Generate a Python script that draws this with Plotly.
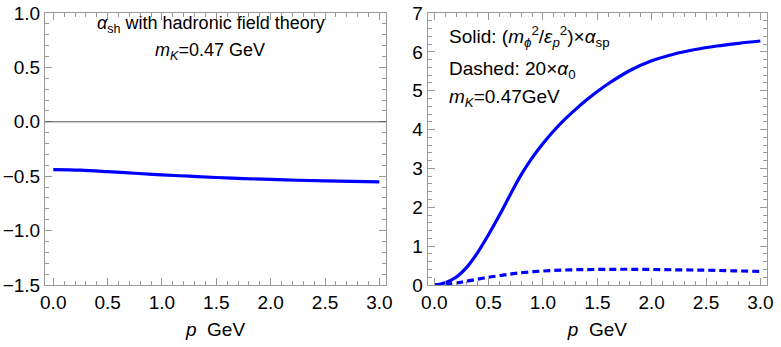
import plotly.graph_objects as go

BLUE = "#0000FF"
FRAME = "#9a9a9a"
FONT = "Liberation Sans, Arial, sans-serif"

# left panel: alpha_sh vs p
p_left = [0.0, 0.25, 0.5, 0.75, 1.0, 1.25, 1.5, 1.75, 2.0, 2.25, 2.5, 2.75, 3.0]
alpha_sh = [-0.44, -0.445, -0.458, -0.473, -0.488, -0.50, -0.512, -0.522,
            -0.53, -0.537, -0.543, -0.548, -0.553]

# right panel: solid (m_phi^2/eps_p^2)*alpha_sp
p_solid = [0.0, 0.1, 0.2, 0.3, 0.4, 0.5, 0.6, 0.7, 0.8, 0.9, 1.0, 1.1, 1.2,
           1.3, 1.4, 1.5, 1.6, 1.8, 2.0, 2.2, 2.4, 2.6, 2.8, 3.0]
alpha_sp_scaled = [0.0, 0.06, 0.2, 0.46, 0.84, 1.3, 1.8, 2.33, 2.84, 3.27,
                   3.64, 3.97, 4.26, 4.52, 4.76, 4.98, 5.18, 5.52, 5.77, 5.94,
                   6.06, 6.15, 6.22, 6.28]

# right panel: dashed 20*alpha_0
p_dash = [0.0, 0.1, 0.2, 0.3, 0.4, 0.5, 0.6, 0.75, 1.0, 1.25, 1.5, 1.75,
          2.0, 2.25, 2.5, 2.75, 3.0]
alpha0_x20 = [0.0, 0.02, 0.05, 0.1, 0.15, 0.2, 0.24, 0.3, 0.36, 0.39, 0.40,
              0.405, 0.40, 0.39, 0.38, 0.365, 0.35]

x_ticks = [0.0, 0.5, 1.0, 1.5, 2.0, 2.5, 3.0]
x_ticktext = ["0.0", "0.5", "1.0", "1.5", "2.0", "2.5", "3.0"]
yl_ticks = [-1.5, -1.0, -0.5, 0.0, 0.5, 1.0]
yl_ticktext = ["\u22121.5", "\u22121.0", "\u22120.5", "0.0", "0.5", "1.0"]
yr_ticks = [0, 1, 2, 3, 4, 5, 6, 7]

fig = go.Figure()

fig.add_trace(go.Scatter(x=p_left, y=alpha_sh, mode="lines", line_shape="spline",
                         line=dict(color=BLUE, width=3.2), showlegend=False,
                         xaxis="x", yaxis="y"))
fig.add_trace(go.Scatter(x=p_solid, y=alpha_sp_scaled, mode="lines", line_shape="spline",
                         line=dict(color=BLUE, width=3.2), showlegend=False,
                         xaxis="x2", yaxis="y2"))
fig.add_trace(go.Scatter(x=p_dash, y=alpha0_x20, mode="lines", line_shape="spline",
                         line=dict(color=BLUE, width=3.2, dash="7px,4px"), showlegend=False,
                         xaxis="x2", yaxis="y2"))

axis_common = dict(
    showline=True, linecolor=FRAME, linewidth=1, mirror="ticks",
    ticks="inside", ticklen=7, tickcolor=FRAME, tickwidth=1,
    showgrid=False, zeroline=False, automargin=False,
    tickfont=dict(family=FONT, size=19, color="black"),
)

xtitle = dict(text="<i>p</i>  GeV", font=dict(family=FONT, size=19, color="black"), standoff=10)

fig.update_layout(
    width=781, height=347,
    margin=dict(l=45, r=14, t=13, b=62),
    paper_bgcolor="white", plot_bgcolor="white",
    font=dict(family=FONT, size=19, color="black"),
    xaxis=dict(domain=[0, 0.4723], range=[-0.076, 3.061], tickvals=x_ticks, ticktext=x_ticktext,
               minor=dict(ticks="inside", dtick=0.1, ticklen=4, tickcolor=FRAME),
               title=xtitle, anchor="y", **axis_common),
    yaxis=dict(range=[-1.5, 1.0], tickvals=yl_ticks, ticktext=yl_ticktext,
               minor=dict(ticks="inside", dtick=0.1, ticklen=4, tickcolor=FRAME),
               anchor="x", ticklabelstandoff=0, **axis_common),
    xaxis2=dict(domain=[0.530, 1.0], range=[-0.061, 3.061], tickvals=x_ticks, ticktext=x_ticktext,
                minor=dict(ticks="inside", dtick=0.1, ticklen=4, tickcolor=FRAME),
                title=xtitle, anchor="y2", **axis_common),
    yaxis2=dict(range=[0, 7], tickvals=yr_ticks,
                minor=dict(ticks="inside", dtick=0.2, ticklen=4, tickcolor=FRAME),
                anchor="x2", ticklabelstandoff=0, **axis_common),
)

# zero line in left panel
fig.add_shape(type="line", xref="x domain", yref="y", x0=0, x1=1, y0=0, y1=0,
              line=dict(color="#555555", width=1))

left_font = dict(family=FONT, size=18, color="black")
right_font = dict(family=FONT, size=19, color="black")
fig.add_annotation(x=0.23, y=0.956, xref="paper", yref="paper", showarrow=False,
                   xanchor="center", yanchor="middle", font=left_font,
                   text="<i>\u03b1</i><sub>sh</sub> with hadronic field theory")
fig.add_annotation(x=0.2285, y=0.858, xref="paper", yref="paper", showarrow=False,
                   xanchor="center", yanchor="middle", font=left_font,
                   text="<i>m</i><sub><i>K</i></sub>=0.47 GeV")
fig.add_annotation(x=0.557, y=0.912, xref="paper", yref="paper", showarrow=False,
                   xanchor="left", yanchor="middle", font=right_font,
                   text="Solid: (<i>m</i><sub><i>\u03d5</i></sub><sup>2</sup>/<i>\u03b5</i><sub><i>p</i></sub><sup>2</sup>)\u00d7<i>\u03b1</i><sub>sp</sub>")
fig.add_annotation(x=0.557, y=0.79, xref="paper", yref="paper", showarrow=False,
                   xanchor="left", yanchor="middle", font=right_font,
                   text="Dashed: 20\u00d7<i>\u03b1</i><sub>0</sub>")
fig.add_annotation(x=0.557, y=0.686, xref="paper", yref="paper", showarrow=False,
                   xanchor="left", yanchor="middle", font=right_font,
                   text="<i>m</i><sub><i>K</i></sub>=0.47GeV")

# drop the default page margin so the figure sits at the window corner
fig.write_html("out.html", config={"displayModeBar": False},
               post_script="document.body.style.margin = '0px';")
